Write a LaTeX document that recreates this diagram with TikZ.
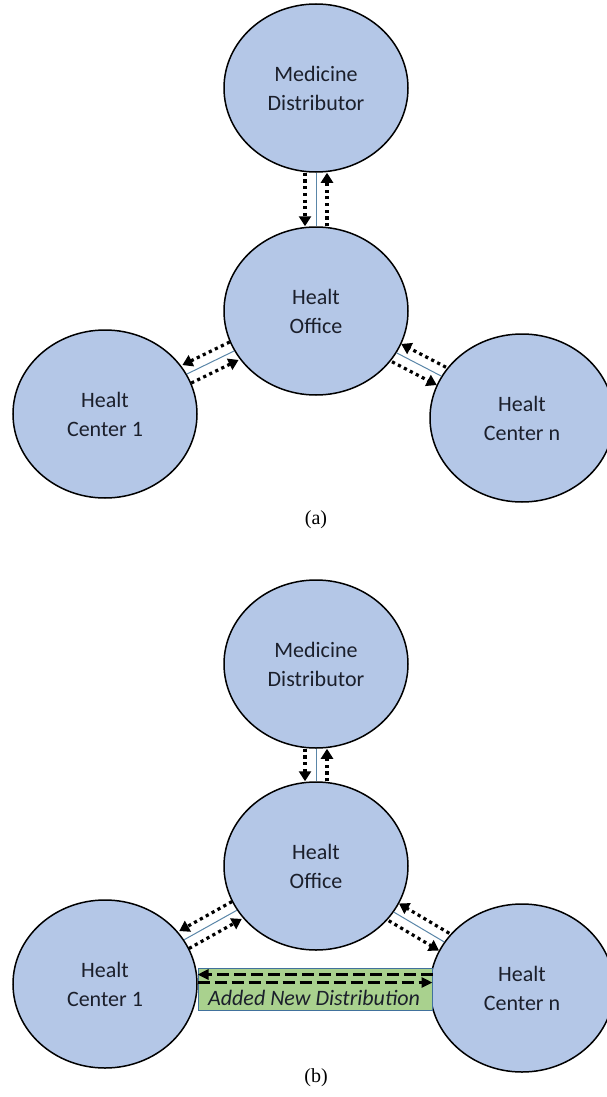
\documentclass[tikz,border=0pt]{standalone}
\usepackage{fontspec}
\setmainfont{Carlito}
\newfontfamily\capfont{Liberation Serif}
\usetikzlibrary{shapes.geometric,arrows.meta}
\definecolor{ellfill}{HTML}{B4C7E7}
\definecolor{thinline}{HTML}{5A86A8}
\definecolor{boxfill}{HTML}{A9D18E}
\definecolor{boxline}{HTML}{41719C}
\definecolor{txt}{HTML}{1B1F2B}
\begin{document}
\begin{tikzpicture}[x=1pt,y=-1pt,
 ent/.style={ellipse,draw=black,line width=1.5pt,fill=ellfill,minimum width=184pt,minimum height=168pt,inner sep=0pt,align=center,text=txt,font=\fontsize{22}{29}\selectfont},
 dotarrow/.style={line width=3.2pt,dash pattern=on 3.2pt off 3.5pt,-{Triangle[width=12pt,length=10pt]}},
 midline/.style={line width=1pt,draw=thinline},
 dasharrow/.style={line width=3pt,dash pattern=on 12pt off 5pt,-{Triangle[width=10pt,length=11pt]}},
 newbox/.style={draw=boxline,line width=1pt,fill=boxfill,minimum width=234pt,minimum height=42pt,inner sep=0pt},
 sublabel/.style={font=\capfont\fontsize{20}{22}\selectfont}]
\useasboundingbox (0,0) rectangle (606,1097);
\fill[white] (0,0) rectangle (606,1097);

% ---------- (a) ----------
\node[ent] (meda) at (316,88) {Medicine\\Distributor};
\node[ent] (offa) at (316,311) {Healt\\Office};
\node[ent] (c1a) at (105,414) {Healt\\Center 1};
\node[ent] (cna) at (522,418) {Healt\\Center n};

\draw[midline] (meda) -- (offa);
\draw[dotarrow,transform canvas={shift={(-11,0)}}] (meda) -- (offa);
\draw[dotarrow,transform canvas={shift={(11,0)}}] (offa) -- (meda);

\draw[midline] (offa) -- (c1a);
\draw[dotarrow,transform canvas={shift={(-4.4,-9.0)}}] (offa) -- (c1a);
\draw[dotarrow,transform canvas={shift={(4.4,9.0)}}] (c1a) -- (offa);

\draw[midline] (offa) -- (cna);
\draw[dotarrow,transform canvas={shift={(4.6,-8.9)}}] (cna) -- (offa);
\draw[dotarrow,transform canvas={shift={(-4.6,8.9)}}] (offa) -- (cna);

\node[sublabel] (laba) at (316,520) {(a)};

% ---------- (b) ----------
\node[ent] (medb) at (316,664) {Medicine\\Distributor};
\node[ent] (offb) at (316,866) {Healt\\Office};
\node[ent] (c1b) at (105,984) {Healt\\Center 1};
\node[ent] (cnb) at (522,988) {Healt\\Center n};

\draw[midline] (medb) -- (offb);
\draw[dotarrow,transform canvas={shift={(-11,0)}}] (medb) -- (offb);
\draw[dotarrow,transform canvas={shift={(11,0)}}] (offb) -- (medb);

\draw[midline] (offb) -- (c1b);
\draw[dotarrow,transform canvas={shift={(-4.9,-8.7)}}] (offb) -- (c1b);
\draw[dotarrow,transform canvas={shift={(4.9,8.7)}}] (c1b) -- (offb);

\draw[midline] (offb) -- (cnb);
\draw[dotarrow,transform canvas={shift={(5.1,-8.6)}}] (cnb) -- (offb);
\draw[dotarrow,transform canvas={shift={(-5.1,8.6)}}] (offb) -- (cnb);

\node[newbox] (nd) at (315,989) {};
\node[text=txt,font=\itshape\fontsize{22}{24}\selectfont,anchor=base] (ndtext) at (314,1005) {Added New Distribution};
\draw[dasharrow] ([yshift=-7pt]nd.north east) -- ([yshift=-7pt]nd.north west);
\draw[dasharrow] ([yshift=-15pt]nd.north west) -- ([yshift=-15pt]nd.north east);

\node[sublabel] (labb) at (316,1078) {(b)};
\end{tikzpicture}
\end{document}
